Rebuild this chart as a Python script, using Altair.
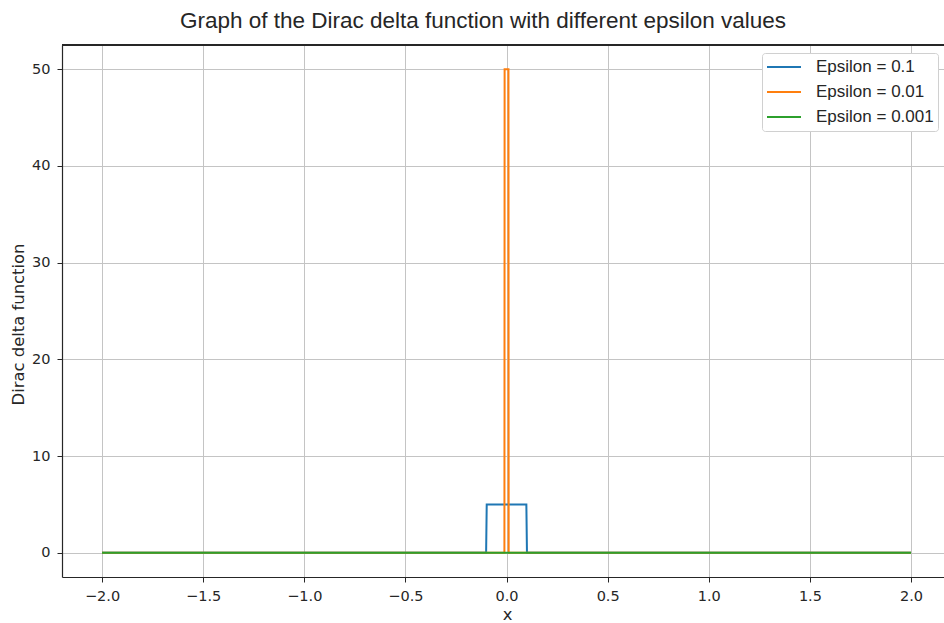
import altair as alt
import pandas as pd

# Series labels and colours (matplotlib tab10 defaults)
labels = ["Epsilon = 0.1", "Epsilon = 0.01", "Epsilon = 0.001"]
colors = ["#1f77b4", "#ff7f0e", "#2ca02c"]

# Breakpoints of each rectangular approximation of the delta function
x_eps_01 = [-2.0, -0.101, -0.098, 0.098, 0.101, 2.0]
y_eps_01 = [0.0, 0.0, 5.0, 5.0, 0.0, 0.0]

x_eps_001 = [-2.0, -0.0105, -0.0095, 0.0095, 0.0105, 2.0]
y_eps_001 = [0.0, 0.0, 50.0, 50.0, 0.0, 0.0]

x_eps_0001 = [-2.0, 2.0]
y_eps_0001 = [0.0, 0.0]

x_ticks = [-2.0, -1.5, -1.0, -0.5, 0.0, 0.5, 1.0, 1.5, 2.0]
y_ticks = [0, 10, 20, 30, 40, 50]

SANS = "Liberation Sans"
TICK_FONT = "DejaVu Sans"
INK = "#262626"
GRID = "#c4c4c4"

rows = []
for label, xs, ys in zip(labels,
                         [x_eps_01, x_eps_001, x_eps_0001],
                         [y_eps_01, y_eps_001, y_eps_0001]):
    for i, (xv, yv) in enumerate(zip(xs, ys)):
        rows.append({"series": label, "x": xv, "y": yv, "step": i})
df = pd.DataFrame(rows)

x_scale = alt.Scale(domain=[-2.198, 2.163], nice=False, zero=False)
y_scale = alt.Scale(domain=[-2.5, 52.5], nice=False, zero=False)
color_scale = alt.Scale(domain=labels, range=colors)

x_axis = alt.Axis(values=x_ticks, format=".1f", title="x", titleX=445,
                  titleAnchor="start", titleAlign="center", titlePadding=4,
                  labelPadding=7)
y_axis = alt.Axis(values=y_ticks, format="d", title="Dirac delta function",
                  titleY=279, titleAnchor="start", titleAlign="center",
                  titlePadding=5, labelPadding=7)

legend = alt.Legend(title=None, orient="none", legendX=700, legendY=8,
                    symbolType="stroke", symbolStrokeWidth=2, symbolSize=1156,
                    labelFontSize=17, labelFont=SANS, labelColor=INK,
                    fillColor="white", strokeColor="#d0d0d0", cornerRadius=3,
                    padding=4, rowPadding=5, clipHeight=20,
                    labelOffset=14, symbolOffset=0)


def series_layer(label):
    return alt.Chart(df).transform_filter(
        alt.datum.series == label
    ).mark_line(strokeWidth=2, clip=True).encode(
        x=alt.X("x:Q", scale=x_scale, axis=x_axis),
        y=alt.Y("y:Q", scale=y_scale, axis=y_axis),
        color=alt.Color("series:N", scale=color_scale, legend=legend),
        order=alt.Order("step:Q"),
    )


# Top spine of the axes frame
top_spine = alt.Chart(df).mark_rule(color=INK, strokeWidth=1.2).encode(
    x=alt.value(0), x2=alt.value(882), y=alt.value(0)
)

chart = alt.layer(
    series_layer(labels[0]),
    series_layer(labels[1]),
    series_layer(labels[2]),
    top_spine,
).properties(
    width=882,
    height=532,
    padding={"left": 62, "top": 45, "right": 0, "bottom": 46},
    autosize=alt.AutoSizeParams(type="none"),
    title=alt.TitleParams(
        "Graph of the Dirac delta function with different epsilon values",
        fontSize=22.5, font=SANS, fontWeight="normal", color=INK,
        anchor="middle", dx=-20, offset=12,
    ),
).configure_view(
    stroke=None
).configure_axis(
    labelFont=TICK_FONT, labelFontSize=14.5, labelColor=INK,
    titleFont=TICK_FONT, titleFontSize=16.4, titleFontWeight="normal",
    titleColor=INK,
    domainColor=INK, domainWidth=1.2, tickColor=INK, tickSize=5, tickWidth=1,
    gridColor=GRID, gridWidth=1,
)

chart.save("out.html", embed_options={"renderer": "svg", "actions": False})
